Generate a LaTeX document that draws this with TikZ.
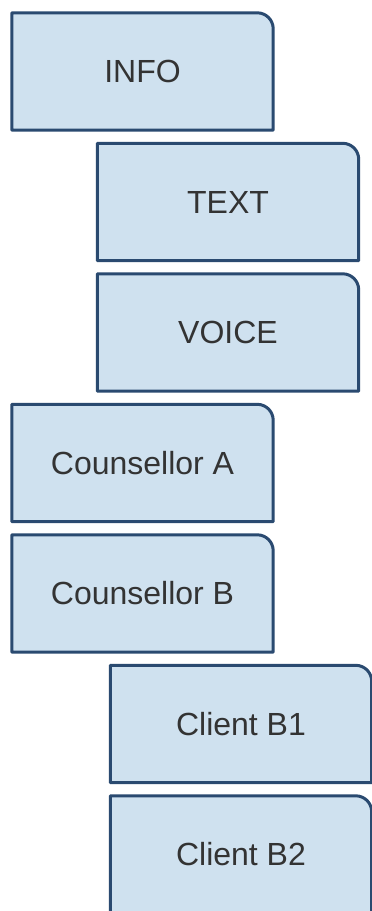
\documentclass[tikz,border=0pt]{standalone}
\usepackage{fontspec}
\setmainfont{Liberation Sans}
\definecolor{boxfill}{HTML}{CFE1EF}
\definecolor{boxline}{HTML}{2A4A70}
\definecolor{txt}{HTML}{333333}
\tikzset{
  card/.style={minimum width=261pt, minimum height=117pt, inner sep=0pt, anchor=center,
    text=txt, font=\fontsize{32}{38}\selectfont},
  cardline/.style={draw=boxline, line width=3pt, fill=boxfill, line join=round}
}
\begin{document}
\begin{tikzpicture}[x=1pt,y=-1pt]
\useasboundingbox (0,0) rectangle (372,911);
\node[card] (info) at (142.5,71.5) {};
\node[card] (text) at (228,202) {};
\node[card] (voice) at (228,332.5) {};
\node[card] (ca) at (142.5,463) {};
\node[card] (cb) at (142.5,593.5) {};
\node[card] (b1) at (241,724) {};
\node[card] (b2) at (241,854.5) {};
\foreach \n/\t in {info/INFO, text/TEXT, voice/VOICE, ca/Counsellor A, cb/Counsellor B, b1/Client B1, b2/Client B2}{
  \draw[cardline] (\n.south west) -- (\n.north west) -- ([xshift=-16pt]\n.north east)
    arc[start angle=90, end angle=0, radius=16pt] -- (\n.south east) -- cycle;
  \node[card] at (\n.center) {\t};
}
\end{tikzpicture}
\end{document}
